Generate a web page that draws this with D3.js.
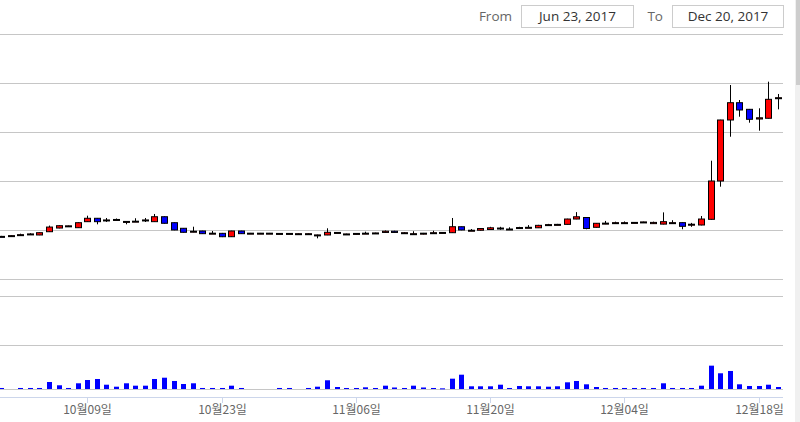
<!DOCTYPE html>
<html><head><meta charset="utf-8">
<script src="https://cdn.jsdelivr.net/npm/d3@7"></script>
<style>
html,body{margin:0;padding:0;background:#fff;overflow:hidden}
svg{display:block}
</style></head>
<body>
<svg id="chart" width="800" height="422"></svg>
<script>
const dates = ["2017-09-30","2017-10-01","2017-10-02","2017-10-03","2017-10-04","2017-10-05","2017-10-06","2017-10-07","2017-10-08","2017-10-09",
"2017-10-10","2017-10-11","2017-10-12","2017-10-13","2017-10-14","2017-10-15","2017-10-16","2017-10-17","2017-10-18","2017-10-19",
"2017-10-20","2017-10-21","2017-10-22","2017-10-23","2017-10-24","2017-10-25","2017-10-26","2017-10-27","2017-10-28","2017-10-29",
"2017-10-30","2017-10-31","2017-11-01","2017-11-02","2017-11-03","2017-11-04","2017-11-05","2017-11-06","2017-11-07","2017-11-08",
"2017-11-09","2017-11-10","2017-11-11","2017-11-12","2017-11-13","2017-11-14","2017-11-15","2017-11-16","2017-11-17","2017-11-18",
"2017-11-19","2017-11-20","2017-11-21","2017-11-22","2017-11-23","2017-11-24","2017-11-25","2017-11-26","2017-11-27","2017-11-28",
"2017-11-29","2017-11-30","2017-12-01","2017-12-02","2017-12-03","2017-12-04","2017-12-05","2017-12-06","2017-12-07","2017-12-08",
"2017-12-09","2017-12-10","2017-12-11","2017-12-12","2017-12-13","2017-12-14","2017-12-15","2017-12-16","2017-12-17","2017-12-18",
"2017-12-19","2017-12-20"];
const opens = [870,880,890,915,898,965,1040,1070,1047,1170,
1239,1200,1205,1170,1170,1200,1170,1271,1149,1035,
960,980,925,932,863,980,930,930,930,925,
925,910,910,895,898,940,915,915,925,930,
950,975,935,915,915,935,940,945,1067,985,
995,1010,1040,1010,1030,1045,1045,1105,1108,1115,
1224,1255,1055,1125,1130,1145,1145,1155,1130,1120,
1135,1150,1105,1102,1218,2000,3245,3598,3463,3265,
3280,3680];
const highs = [880,890,925,935,950,1090,1095,1090,1155,1292,
1245,1245,1235,1180,1240,1245,1327,1278,1155,1040,
1067,985,980,940,985,985,940,940,940,935,
935,930,930,905,1035,955,925,935,965,945,
990,985,955,975,940,985,955,1245,1070,1020,
1040,1065,1065,1055,1065,1100,1105,1125,1125,1230,
1365,1260,1140,1185,1170,1175,1160,1170,1170,1360,
1200,1155,1145,1286,2414,3250,3959,3653,3470,3484,
4027,3776];
const lows = [860,875,885,900,895,960,1035,1065,1045,1165,
1116,1165,1200,1116,1165,1163,1165,1130,995,950,
955,920,920,855,858,920,925,925,925,920,
920,905,905,830,895,935,910,910,920,925,
945,945,920,910,910,930,935,940,995,980,
990,1005,1005,1005,1025,1040,1040,1100,1100,1110,
1220,1015,1050,1120,1125,1140,1140,1150,1125,1115,
1130,1015,1065,1095,1210,1884,2904,3312,3190,3027,
3275,3463];
const closes = [865,885,905,920,945,1060,1088,1085,1149,1239,
1170,1205,1215,1175,1180,1205,1271,1137,1000,953,
975,925,935,863,980,925,935,935,935,930,
930,925,925,900,953,950,920,930,935,940,
975,950,945,925,935,945,950,1067,1000,995,
1030,1045,1020,1020,1050,1055,1095,1110,1115,1224,
1270,1030,1137,1140,1150,1150,1155,1165,1155,1170,
1150,1075,1118,1224,2000,3245,3598,3449,3259,3290,
3667,3700];
const volumes = [23,0,23,23,23,158,84,23,129,203,
226,97,52,129,75,75,226,255,181,113,
129,23,23,23,75,23,0,0,0,23,
23,0,23,52,197,45,23,23,38,23,
75,34,23,75,34,23,15,233,323,61,
61,61,97,23,68,61,61,52,61,151,
181,106,45,23,23,23,23,23,23,129,
23,23,23,75,527,355,407,106,68,68,
97,45];
const priceTicks = [0,1000,2000,3000,4000,5000];
const volumeTicks = [0,1000];
const xTickDates = ["2017-10-09","2017-10-23","2017-11-06","2017-11-20","2017-12-04","2017-12-18"];
const fromLabel = "From", toLabel = "To";
const fromValue = "Jun 23, 2017", toValue = "Dec 20, 2017";

const parse = d3.utcParse("%Y-%m-%d");
const data = dates.map((d,i)=>({date:parse(d),o:opens[i],h:highs[i],l:lows[i],c:closes[i],v:volumes[i]}));

const svg = d3.select("#chart");
svg.append("rect").attr("width",800).attr("height",422).attr("fill","#fff");

const plotRight = 783;
const x = d3.scaleUtc().domain([parse("2017-09-30"), parse("2017-12-20")]).range([1.0, 777.7]);
const yP = d3.scaleLinear().domain([0,5000]).range([279,34]);
const yV = d3.scaleLinear().domain([0,2100]).range([389,296]);

// gridlines price
const grid = svg.append("g");
grid.selectAll("line.p").data(priceTicks).join("line")
  .attr("x1",0).attr("x2",plotRight)
  .attr("y1",d=>Math.round(yP(d))+0.5).attr("y2",d=>Math.round(yP(d))+0.5)
  .attr("stroke","#c6c6c6").attr("stroke-width",1);
// volume pane top + gridlines
grid.append("line").attr("x1",0).attr("x2",plotRight).attr("y1",yV.range()[1]+0.5).attr("y2",yV.range()[1]+0.5)
  .attr("stroke","#c6c6c6");
grid.selectAll("line.v").data(volumeTicks).join("line")
  .attr("x1",0).attr("x2",plotRight)
  .attr("y1",d=>Math.round(yV(d))+0.5).attr("y2",d=>Math.round(yV(d))+0.5)
  .attr("stroke","#c6c6c6");

// candles
const cw = 6;
const cg = svg.append("g");
data.forEach(d=>{
  const cx = Math.round(x(d.date));
  const g = cg.append("g");
  g.append("line").attr("x1",cx+0.5).attr("x2",cx+0.5).attr("y1",yP(d.h)).attr("y2",yP(d.l))
    .attr("stroke","#000").attr("stroke-width",1);
  const top = yP(Math.max(d.o,d.c)), bot = yP(Math.min(d.o,d.c));
  g.append("rect").attr("x",cx-cw/2+0.5).attr("y",top).attr("width",cw).attr("height",Math.max(bot-top,1))
    .attr("fill", d.c>=d.o ? "#ff0000" : "#0000ff").attr("stroke","#000").attr("stroke-width",1);
});

// volume bars
const vw = 5;
svg.append("g").selectAll("rect").data(data.filter(d=>d.v>0)).join("rect")
  .attr("x",d=>Math.round(x(d.date))-2)
  .attr("width",vw)
  .attr("y",d=>yV(d.v))
  .attr("height",d=>Math.max(yV(0)-yV(d.v),1))
  .attr("fill","#0000ff");

// x axis
const axY = 397;
const xa = svg.append("g");
xa.append("line").attr("x1",0).attr("x2",plotRight).attr("y1",axY+0.5).attr("y2",axY+0.5).attr("stroke","#ccd6eb");
const fmt = d3.utcFormat("%m월%d일");
xTickDates.map(parse).forEach(t=>{
  const tx = Math.round(x(t))+0.5;
  xa.append("line").attr("x1",tx).attr("x2",tx).attr("y1",axY).attr("y2",axY+6).attr("stroke","#ccd6eb");
  xa.append("text").attr("x",tx).attr("y",414).attr("text-anchor","middle")
    .attr("font-family","'Noto Sans CJK KR', sans-serif").attr("font-size",12).attr("fill","#666")
    .text(fmt(t));
});

// range selector inputs
const rs = svg.append("g").attr("font-family","'Open Sans', sans-serif").attr("font-size",13.5);
rs.append("text").attr("x",512).attr("y",21).attr("text-anchor","end").attr("fill","#666").text(fromLabel);
rs.append("rect").attr("x",521.5).attr("y",5.5).attr("width",112).attr("height",22).attr("fill","#fff").attr("stroke","#ccc");
rs.append("text").attr("x",577.5).attr("y",21).attr("text-anchor","middle").attr("fill","#333").text(fromValue);
rs.append("text").attr("x",663).attr("y",21).attr("text-anchor","end").attr("fill","#666").text(toLabel);
rs.append("rect").attr("x",672.5).attr("y",5.5).attr("width",111).attr("height",22).attr("fill","#fff").attr("stroke","#ccc");
rs.append("text").attr("x",728).attr("y",21).attr("text-anchor","middle").attr("fill","#333").text(toValue);

// scrollbar strip at right
svg.append("rect").attr("x",795).attr("y",0).attr("width",5).attr("height",422).attr("fill","#f0f0f0");
svg.append("rect").attr("x",796).attr("y",0).attr("width",4).attr("height",85).attr("fill","#cdcdcd");
</script>
</body></html>
